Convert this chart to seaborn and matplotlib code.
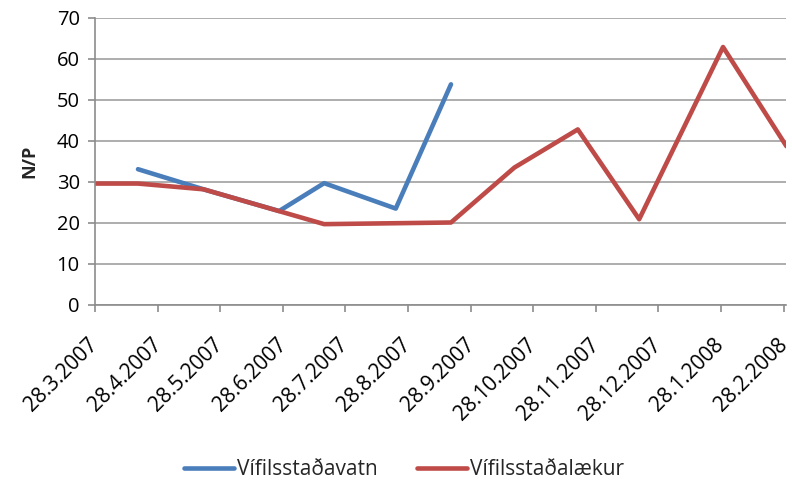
import matplotlib.pyplot as plt
import matplotlib.transforms as mtransforms
import numpy as np
import pandas as pd
import seaborn as sns

sns.set_theme(style="white")
plt.rcParams['font.family'] = ['Open Sans', 'DejaVu Sans']

# Vífilsstaðavatn (blue)
dates_vatn = ['2007-04-18', '2007-05-20', '2007-06-26', '2007-07-18', '2007-08-22', '2007-09-18']
np_vatn = [33.1, 28.2, 22.9, 29.7, 23.5, 53.8]

# Vífilsstaðalækur (red)
dates_laekur = ['2007-03-28', '2007-04-18', '2007-05-20', '2007-07-18', '2007-09-18',
                '2007-10-19', '2007-11-19', '2007-12-19', '2008-01-29', '2008-02-29']
np_laekur = [29.6, 29.6, 28.2, 19.7, 20.1, 33.5, 42.8, 20.9, 62.9, 38.7]

tick_dates = pd.date_range('2007-03-01', '2008-02-01', freq='MS') + pd.Timedelta(days=27)
tick_labels = [f'{d.day}.{d.month}.{d.year}' for d in tick_dates]

df_vatn = pd.DataFrame({'date': pd.to_datetime(dates_vatn), 'np': np_vatn})
df_laekur = pd.DataFrame({'date': pd.to_datetime(dates_laekur), 'np': np_laekur})

fig = plt.figure(figsize=(7.92, 4.84), dpi=100)
ax = fig.add_axes([0.12, 0.37, 0.873, 0.593])

sns.lineplot(data=df_vatn, x='date', y='np', ax=ax, color='#4A7EBB', linewidth=3.3,
             label='Vífilsstaðavatn', solid_capstyle='round', solid_joinstyle='round')
sns.lineplot(data=df_laekur, x='date', y='np', ax=ax, color='#BE4B48', linewidth=3.3,
             label='Vífilsstaðalækur', solid_capstyle='round', solid_joinstyle='round')

ax.set_ylim(0, 70)
ax.set_yticks(np.arange(0, 71, 10))
ax.set_xlim(pd.Timestamp('2007-03-28'), pd.Timestamp('2008-02-29'))
ax.set_xticks(tick_dates)

ax.yaxis.grid(True, color='#A0A0A0', linewidth=1.2)
ax.set_axisbelow(True)
for s in ['top', 'right']:
    ax.spines[s].set_visible(False)
for s in ['left', 'bottom']:
    ax.spines[s].set_color('#8C8C8C')
    ax.spines[s].set_linewidth(1.2)

ax.tick_params(axis='both', which='both', direction='out', length=5, width=1.2,
               color='#8C8C8C', labelcolor='black')
ax.tick_params(axis='y', left=True, pad=6, labelsize=14.5)
ax.tick_params(axis='x', bottom=True)
ax.set_xticklabels(tick_labels, rotation=45, ha='right', va='center', rotation_mode='anchor',
                   fontsize=15)

# push the slanted date labels further down, like the original
shift = mtransforms.ScaledTranslation(0.0, -0.25, fig.dpi_scale_trans)
for lbl in ax.get_xticklabels():
    lbl.set_transform(lbl.get_transform() + shift)

ax.set_xlabel('')
ax.set_ylabel('N/P', fontsize=13, fontweight='bold', labelpad=13)

ax.legend(loc='center', bbox_to_anchor=(0.447, -0.575), ncol=2, frameon=False,
          fontsize=15, handlelength=2.4, columnspacing=1.9, handletextpad=0.15)

fig.savefig('out.png', dpi=100)
